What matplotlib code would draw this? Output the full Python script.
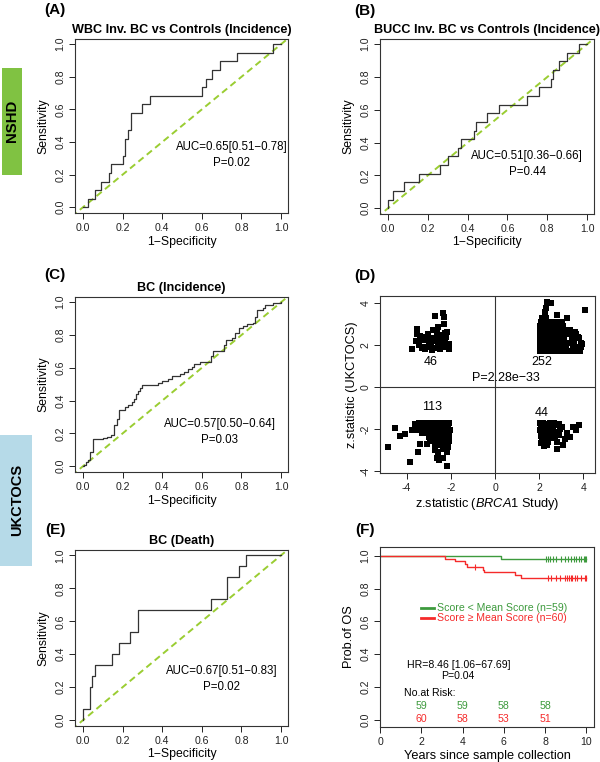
import numpy as np
import matplotlib
matplotlib.use("Agg")
import matplotlib.pyplot as plt
from matplotlib.patches import Rectangle
from matplotlib.ticker import FormatStrFormatter

plt.rcParams['font.family'] = ['Liberation Sans', 'DejaVu Sans']
plt.rcParams['mathtext.fontset'] = 'custom'
plt.rcParams['mathtext.rm'] = 'Liberation Sans'
plt.rcParams['mathtext.it'] = 'Liberation Sans:italic'
plt.rcParams['lines.scale_dashes'] = False

# --- ROC curves (1-specificity where sensitivity rises, sensitivity after the rise) ---
a_fpr = [0, 0.025, 0.06, 0.09, 0.13, 0.14, 0.20, 0.21, 0.23, 0.245, 0.30, 0.34,
         0.60, 0.62, 0.65, 0.69, 0.78, 0.96, 1.0]
a_tpr = [0, 0.053, 0.105, 0.158, 0.21, 0.263, 0.316, 0.421, 0.474, 0.579, 0.632,
         0.684, 0.737, 0.789, 0.842, 0.895, 0.947, 1.0, 1.0]

b_fpr = [0, 0, 0.025, 0.08, 0.155, 0.26, 0.30, 0.35, 0.365, 0.43, 0.44, 0.50, 0.56,
         0.70, 0.76, 0.82, 0.83, 0.86, 0.90, 0.96, 1.0]
b_tpr = [0, 0.053, 0.105, 0.158, 0.21, 0.263, 0.316, 0.368, 0.421, 0.474, 0.526,
         0.579, 0.632, 0.684, 0.737, 0.789, 0.842, 0.895, 0.947, 1.0, 1.0]

c_fpr = [0, 0.005, 0.015, 0.025, 0.035, 0.05, 0.10, 0.12, 0.14, 0.155, 0.17, 0.18,
         0.21, 0.23, 0.25, 0.26, 0.27, 0.28, 0.29, 0.30, 0.38, 0.40, 0.43, 0.45,
         0.49, 0.51, 0.53, 0.55, 0.56, 0.59, 0.645, 0.655, 0.71, 0.72, 0.75, 0.77,
         0.79, 0.81, 0.83, 0.86, 0.87, 0.88, 0.91, 0.92, 0.96, 1.0]
c_tpr = [0, 0.01, 0.025, 0.04, 0.086, 0.165, 0.175, 0.18, 0.19, 0.25, 0.29, 0.345,
         0.36, 0.375, 0.39, 0.41, 0.44, 0.46, 0.48, 0.495, 0.51, 0.52, 0.535, 0.55,
         0.56, 0.575, 0.59, 0.605, 0.625, 0.635, 0.67, 0.705, 0.74, 0.77, 0.785, 0.81,
         0.84, 0.855, 0.865, 0.875, 0.91, 0.955, 0.965, 0.985, 0.995, 1.0]

e_fpr = [0, 0, 0.034, 0.047, 0.059, 0.149, 0.181, 0.238, 0.278, 0.647, 0.727,
         0.787, 0.821, 1.0]
e_tpr = [0, 0.067, 0.2, 0.267, 0.333, 0.4, 0.467, 0.533, 0.667, 0.733, 0.867,
         0.933, 1.0, 1.0]

# --- (D) z statistics, four quadrants ---
ul_x = [-3.77, -3.58, -3.52, -3.55, -3.42, -3.30, -3.22, -3.13, -3.10, -3.03, -2.96,
        -2.93, -2.90, -2.85, -2.80, -2.72, -2.68, -2.65, -2.62, -2.57, -2.52, -2.50,
        -2.48, -2.43, -2.40, -2.37, -2.33, -2.30, -2.27, -2.25, -2.22, -2.20, -2.18,
        -2.10, -2.07, -2.30, -2.62, -3.00, -3.18, -3.33, -3.45, -2.75, -2.60, -2.40,
        -2.25, -2.55]
ul_y = [1.78, 2.19, 2.73, 2.50, 2.40, 1.83, 1.90, 2.38, 2.22, 2.50, 2.33, 2.06, 1.90,
        1.75, 2.70, 3.35, 2.30, 1.83, 2.55, 2.86, 2.22, 2.00, 1.78, 2.35, 1.90, 3.49,
        3.33, 2.06, 2.54, 2.22, 1.90, 2.38, 2.62, 2.03, 1.80, 3.00, 2.70, 2.00, 1.78,
        2.22, 2.00, 2.19, 2.06, 2.15, 1.95, 2.45]

ur_row_y = [1.72, 1.90, 2.10, 2.30, 2.50, 2.70, 2.90, 3.10, 3.25]
ur_row_x = [[2.04, 2.16, 2.28, 2.41, 2.55, 2.68, 2.83, 2.97, 3.12, 3.30, 3.48, 3.66, 3.83],
            [2.06, 2.18, 2.31, 2.44, 2.58, 2.72, 2.88, 3.05, 3.22, 3.52, 3.72, 3.90],
            [2.03, 2.15, 2.27, 2.40, 2.53, 2.67, 2.82, 2.98, 3.20, 3.42, 3.60, 3.88],
            [2.05, 2.19, 2.33, 2.47, 2.62, 2.78, 2.95, 3.12, 3.50, 3.80],
            [2.04, 2.17, 2.30, 2.45, 2.60, 2.75, 2.92, 3.10, 3.35, 3.68],
            [2.06, 2.20, 2.35, 2.50, 2.66, 2.84, 3.05, 3.40],
            [2.05, 2.18, 2.33, 2.48, 2.65, 2.86, 3.10],
            [2.07, 2.22, 2.40, 2.58, 2.80, 3.02],
            [2.12, 2.30, 3.25]]
ur_out_x = [2.25, 2.35, 2.52, 2.30, 2.79, 3.32, 3.62, 3.77, 3.93, 3.62, 4.08]
ur_out_y = [3.55, 4.05, 3.97, 3.73, 3.41, 2.70, 2.62, 2.38, 2.06, 1.90, 3.65]

ll_row_y = [-1.72, -1.88, -2.04, -2.20, -2.38, -2.56, -2.75]
ll_row_x = [[-3.45, -3.30, -3.15, -3.00, -2.86, -2.72, -2.58, -2.45, -2.32, -2.20, -2.08],
            [-3.58, -3.40, -3.25, -3.10, -2.95, -2.80, -2.66, -2.52, -2.38, -2.25, -2.12],
            [-3.50, -3.35, -3.20, -3.05, -2.90, -2.75, -2.60, -2.46, -2.32, -2.18, -2.06],
            [-3.30, -3.12, -2.95, -2.80, -2.65, -2.50, -2.36, -2.22, -2.08],
            [-3.00, -2.82, -2.66, -2.50, -2.35, -2.20, -2.08],
            [-2.85, -2.60, -2.42, -2.25, -2.10],
            [-2.70, -2.45, -2.30, -2.15]]
ll_out_x = [-4.86, -4.53, -4.30, -4.08, -3.77, -3.85, -3.47, -3.40, -3.09, -2.94, -2.72,
            -2.64, -2.52, -2.19, -2.19, -2.34, -2.11, -3.62, -2.57, -2.34]
ll_out_y = [-2.86, -1.94, -2.35, -2.25, -2.06, -3.57, -3.10, -2.73, -2.73, -2.57, -3.00,
            -3.41, -3.49, -3.78, -3.10, -2.95, -2.86, -1.76, -3.10, -3.41]

lr_x = [2.05, 2.18, 2.32, 2.48, 2.10, 2.25, 2.40, 2.55, 2.05, 2.20, 2.35, 2.50, 2.12,
        2.28, 2.45, 2.60, 2.08, 2.22, 2.38, 2.15, 2.30, 2.10, 2.22, 2.40, 2.72, 2.88,
        2.95, 2.80, 3.02, 2.70, 2.79, 2.82, 3.09, 3.17, 3.25, 3.40, 3.55, 3.82, 3.65,
        2.62, 2.55, 2.35, 2.65, 2.90]
lr_y = [-1.72, -1.70, -1.75, -1.72, -1.88, -1.86, -1.90, -1.85, -2.04, -2.02, -2.06,
        -2.00, -2.20, -2.22, -2.18, -2.25, -2.36, -2.40, -2.35, -2.52, -2.55, -2.68,
        -2.82, -2.62, -1.80, -1.75, -2.00, -2.15, -1.90, -2.38, -2.62, -2.98, -2.78,
        -2.46, -2.20, -2.38, -1.90, -1.82, -2.05, -2.02, -2.45, -2.75, -1.72, -2.30]

quad_counts = ["46", "252", "113", "44"]

# --- (F) Kaplan-Meier ---
low_t = [0, 5.85, 10.0]
low_s = [1.0, 0.983, 0.983]
low_cens = [8.02, 8.15, 8.26, 8.39, 8.55, 8.79, 8.98, 9.11, 9.27, 9.40, 9.52, 9.63,
            9.76, 9.87, 9.95, 10.0]
high_t = [0, 3.15, 3.65, 4.10, 4.20, 4.97, 5.03, 6.55, 6.85, 10.0]
high_s = [1.0, 0.983, 0.967, 0.950, 0.933, 0.917, 0.900, 0.883, 0.867, 0.867]
high_cens = [4.6, 8.15, 8.31, 8.55, 8.71, 8.95, 9.08, 9.16, 9.24, 9.32, 9.43, 9.56,
             9.76, 9.92, 10.0]
risk_years = [2, 4, 6, 8]
risk_low = [59, 59, 58, 58]
risk_high = [60, 58, 53, 51]

GREEN = '#3d9a3d'
RED = '#f52a2a'
LINE = '#333333'

fig = plt.figure(figsize=(6, 7.62), dpi=100)


def box(l, r, t, b):
    return [l / 600, 1 - b / 762, (r - l) / 600, (b - t) / 762]


def r_style(ax, xt, yt, xfmt, yfmt):
    for s in ax.spines.values():
        s.set_linewidth(0.8)
        s.set_color(LINE)
    ax.set_xticks(xt)
    ax.set_yticks(yt)
    ax.xaxis.set_major_formatter(FormatStrFormatter(xfmt))
    ax.yaxis.set_major_formatter(FormatStrFormatter(yfmt))
    ax.tick_params(direction='out', length=4.5, width=0.7, labelsize=7.6,
                   pad=2.5, colors='#222222')
    for lab in ax.get_yticklabels():
        lab.set_rotation(90)
        lab.set_va('center')


def roc_panel(ax, fpr, tpr, title, auc, pval, tx, ty):
    ax.plot([-0.1, 1.1], [-0.1, 1.1], color='#9acd32', lw=1.4, ls=(0, (4.8, 3.0)))
    ax.step(fpr, tpr, where='post', color=LINE, lw=0.9)
    ax.set_xlim(-0.04, 1.035)
    ax.set_ylim(-0.035, 1.032)
    r_style(ax, np.arange(0, 1.01, 0.2), np.arange(0, 1.01, 0.2), '%.1f', '%.1f')
    ax.set_xlabel('1\u2212Specificity', fontsize=8.8, labelpad=2)
    ax.set_ylabel('Sensitivity', fontsize=8.8, labelpad=4)
    ax.set_title(title, fontsize=9.1, fontweight='bold', pad=4)
    ax.text(tx, ty, auc, fontsize=8.3, ha='center', va='center')
    ax.text(tx, ty - 0.1, pval, fontsize=8.3, ha='center', va='center')


axA = fig.add_axes(box(75, 288, 39, 213))
axB = fig.add_axes(box(380, 594, 39, 214))
axC = fig.add_axes(box(75, 288, 297, 472))
axD = fig.add_axes(box(380, 595, 296, 473))
axE = fig.add_axes(box(75, 288, 550, 726))
axF = fig.add_axes(box(380, 594, 547, 727))

roc_panel(axA, a_fpr, a_tpr, 'WBC Inv. BC vs Controls (Incidence)',
          'AUC=0.65[0.51\u22120.78]', 'P=0.02', 0.75, 0.37)
roc_panel(axB, b_fpr, b_tpr, 'BUCC Inv. BC vs Controls (Incidence)',
          'AUC=0.51[0.36\u22120.66]', 'P=0.44', 0.70, 0.32)
roc_panel(axC, c_fpr, c_tpr, 'BC (Incidence)',
          'AUC=0.57[0.50\u22120.64]', 'P=0.03', 0.69, 0.26)
roc_panel(axE, e_fpr, e_tpr, 'BC (Death)',
          'AUC=0.67[0.51\u22120.83]', 'P=0.02', 0.70, 0.30)

# --- (D) ---
ur_x = [x for row in ur_row_x for x in row] + ur_out_x
ur_y = [y for y, row in zip(ur_row_y, ur_row_x) for _ in row] + ur_out_y
ll_x = [x for row in ll_row_x for x in row] + ll_out_x
ll_y = [y for y, row in zip(ll_row_y, ll_row_x) for _ in row] + ll_out_y
axD.axhline(0, color=LINE, lw=0.8)
axD.axvline(0, color=LINE, lw=0.8)
for xs, ys in [(ul_x, ul_y), (ur_x, ur_y), (ll_x, ll_y), (lr_x, lr_y)]:
    axD.scatter(xs, ys, marker='s', s=13, color='black', linewidths=0)
axD.set_xlim(-5.21, 4.53)
axD.set_ylim(-4.1, 4.32)
r_style(axD, [-4, -2, 0, 2, 4], [-4, -2, 0, 2, 4], '%d', '%d')
axD.set_xlabel(r'z.statistic ($\it{BRCA1}$ Study)', fontsize=9.2, labelpad=2)
axD.set_ylabel('z.statistic (UKCTOCS)', fontsize=9.2, labelpad=2)
for lab, (qx, qy) in zip(quad_counts, [(-2.9, 1.19), (2.14, 1.19), (-2.87, -0.95), (2.11, -1.24)]):
    axD.text(qx, qy, lab, fontsize=9, ha='center', va='center')
axD.text(0.48, 0.4, 'P=2.28e\u221233', fontsize=9, ha='center', va='center')

# --- (F) ---
axF.step(low_t, low_s, where='post', color=GREEN, lw=1.0)
axF.step(high_t, high_s, where='post', color=RED, lw=1.0)
low_cy = [low_s[np.searchsorted(low_t, t, side='right') - 1] for t in low_cens]
high_cy = [high_s[np.searchsorted(high_t, t, side='right') - 1] for t in high_cens]
axF.plot(low_cens, low_cy, ls='none', marker='|', ms=5, mew=0.8, color=GREEN)
axF.plot(high_cens, high_cy, ls='none', marker='|', ms=5, mew=0.8, color=RED)
axF.set_xlim(0, 10.37)
axF.set_ylim(-0.045, 1.055)
r_style(axF, [0, 2, 4, 6, 8, 10], np.arange(0, 1.01, 0.2), '%d', '%.1f')
axF.set_xlabel('Years since sample collection', fontsize=9.2, labelpad=2)
axF.set_ylabel('Prob.of OS', fontsize=9.2, labelpad=4)
axF.plot([2.0, 2.6], [0.68, 0.68], color=GREEN, lw=2)
axF.plot([2.0, 2.6], [0.62, 0.62], color=RED, lw=2)
axF.text(2.77, 0.68, 'Score < Mean Score (n=59)', color=GREEN, fontsize=7.6, va='center')
axF.text(2.77, 0.62, 'Score \u2265 Mean Score (n=60)', color=RED, fontsize=7.6, va='center')
axF.text(3.8, 0.335, 'HR=8.46 [1.06\u221267.69]', fontsize=7.6, ha='center', va='center')
axF.text(3.75, 0.265, 'P=0.04', fontsize=7.6, ha='center', va='center')
axF.text(1.15, 0.16, 'No.at Risk:', fontsize=7.6, va='center')
for yr, nl, nh in zip(risk_years, risk_low, risk_high):
    axF.text(yr, 0.082, str(nl), color=GREEN, fontsize=7.6, ha='center', va='center')
    axF.text(yr, 0.006, str(nh), color=RED, fontsize=7.6, ha='center', va='center')

# --- panel letters and cohort labels ---
for lab, (px, py) in zip(['(A)', '(B)', '(C)', '(D)', '(E)', '(F)'],
                         [(55, 10), (365, 11), (55, 275), (365, 276), (55, 530), (365, 530)]):
    fig.text(px / 600, 1 - py / 762, lab, fontsize=11, fontweight='bold',
             ha='center', va='center')

fig.add_artist(Rectangle((2 / 600, 1 - 175 / 762), 20 / 600, 107 / 762,
                         transform=fig.transFigure, color='#80c242', lw=0))
fig.text(12 / 600, 1 - 121 / 762, 'NSHD', rotation=90, fontsize=10.8,
         fontweight='bold', ha='center', va='center')
fig.add_artist(Rectangle((0, 1 - 566 / 762), 32 / 600, 131 / 762,
                         transform=fig.transFigure, color='#b6dae8', lw=0))
fig.text(17 / 600, 1 - 500 / 762, 'UKCTOCS', rotation=90, fontsize=10.5,
         fontweight='bold', ha='center', va='center')

fig.savefig('out.png', dpi=100)
